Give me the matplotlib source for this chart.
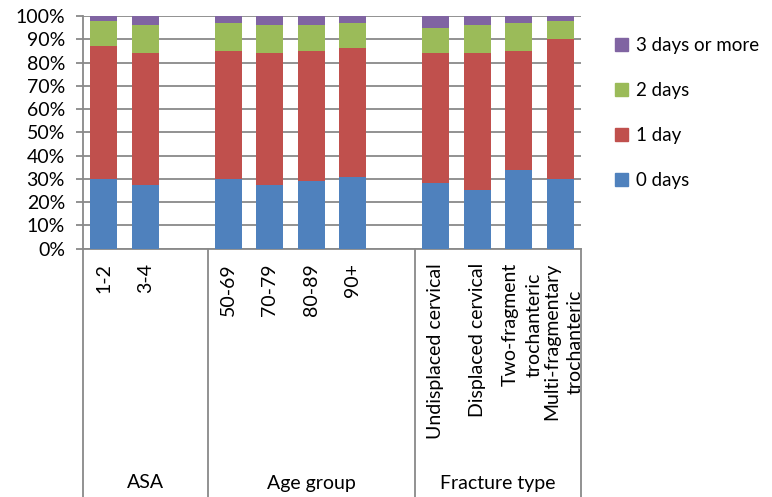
import matplotlib
matplotlib.use("Agg")
import matplotlib.pyplot as plt
import matplotlib.transforms as mtransforms
from matplotlib.patches import Patch

plt.rcParams['font.family'] = ['Lato', 'DejaVu Sans']

# ---- data ----
groups = ["ASA", "Age group", "Fracture type"]
group_categories = [
    ["1-2", "3-4"],
    ["50-69", "70-79", "80-89", "90+"],
    ["Undisplaced cervical", "Displaced cervical",
     "Two-fragment\ntrochanteric", "Multi-fragmentary\ntrochanteric"],
]
series_names = ["0 days", "1 day", "2 days", "3 days or more"]
days0 = [30.0, 27.2, 29.9, 27.2, 28.9, 30.9, 28.1, 25.1, 34.0, 29.9]
days1 = [57.2, 57.0, 55.2, 57.0, 56.2, 55.2, 56.1, 59.1, 51.1, 60.2]
days2 = [10.7, 11.8, 11.9, 11.8, 10.9, 10.9, 10.8, 11.8, 11.9, 7.9]
days3 = [2.1, 4.0, 3.0, 4.0, 4.0, 3.0, 5.0, 4.0, 3.0, 2.0]
colors = ["#4F81BD", "#C0504D", "#9BBB59", "#8064A2"]

series = [days0, days1, days2, days3]

# ---- layout of slots (one empty slot between groups) ----
xpos = []
labels = []
group_bounds = []
slot = 0
for gi, cats in enumerate(group_categories):
    start = slot - 0.5
    for c in cats:
        xpos.append(slot)
        labels.append(c)
        slot += 1
    if gi < len(group_categories) - 1:
        slot += 1
    end = slot - 0.5
    group_bounds.append((start, end))
nslots = slot

W, H = 772, 497
fig = plt.figure(figsize=(W / 100, H / 100), dpi=100)
ax = fig.add_axes([83 / W, (H - 248.7) / H, (581 - 83) / W, (248.7 - 16) / H])

gcol = "#898989"
bottom = [0.0] * len(xpos)
for vals, col, name in zip(series, colors, series_names):
    ax.bar(xpos, vals, width=0.65, bottom=bottom, color=col, label=name,
           zorder=3, linewidth=0)
    bottom = [b + v for b, v in zip(bottom, vals)]

ax.set_xlim(-0.5, nslots - 0.5)
ax.set_ylim(0, 100)
ax.set_yticks(range(0, 101, 10))
ax.set_yticklabels([f"{v}%" for v in range(0, 101, 10)], fontsize=14)
ax.yaxis.grid(True, color=gcol, linewidth=1.3, zorder=0)
ax.set_axisbelow(True)
for s in ["top", "right"]:
    ax.spines[s].set_visible(False)
ax.spines["left"].set_color(gcol)
ax.spines["left"].set_linewidth(1.3)
ax.spines["bottom"].set_color(gcol)
ax.spines["bottom"].set_linewidth(1.3)
ax.tick_params(axis="y", direction="out", length=5, width=1.3, color=gcol, pad=8)
ax.set_xticks([])

# category labels
trans = mtransforms.blended_transform_factory(ax.transData, fig.transFigure)
for x, lab in zip(xpos, labels):
    ax.text(x + (0.08 if "\n" in lab else 0), (H - 263) / H, lab,
            transform=trans, rotation=90,
            ha="center", va="top", multialignment="center", fontsize=14,
            linespacing=1.45)

# group separators and labels
seps = sorted(set([b for gb in group_bounds for b in gb]))
for s in seps:
    ax.plot([s, s], [(H - 248.7) / H, 0], transform=trans, color=gcol,
            linewidth=1.3, clip_on=False)
for g, (a, b) in zip(groups, group_bounds):
    ax.text((a + b) / 2, (H - 483) / H, g, transform=trans, ha="center",
            va="center", fontsize=14)

# legend
handles = [Patch(color=c, label=n) for c, n in zip(colors, series_names)][::-1]
fig.legend(handles=handles, loc="upper left", bbox_to_anchor=(615 / W, (H - 37) / H),
           frameon=False, fontsize=13.5, handlelength=0.7, handleheight=0.7,
           handletextpad=0.4, labelspacing=1.5, borderaxespad=0, borderpad=0)

fig.savefig("out.png", dpi=100)
